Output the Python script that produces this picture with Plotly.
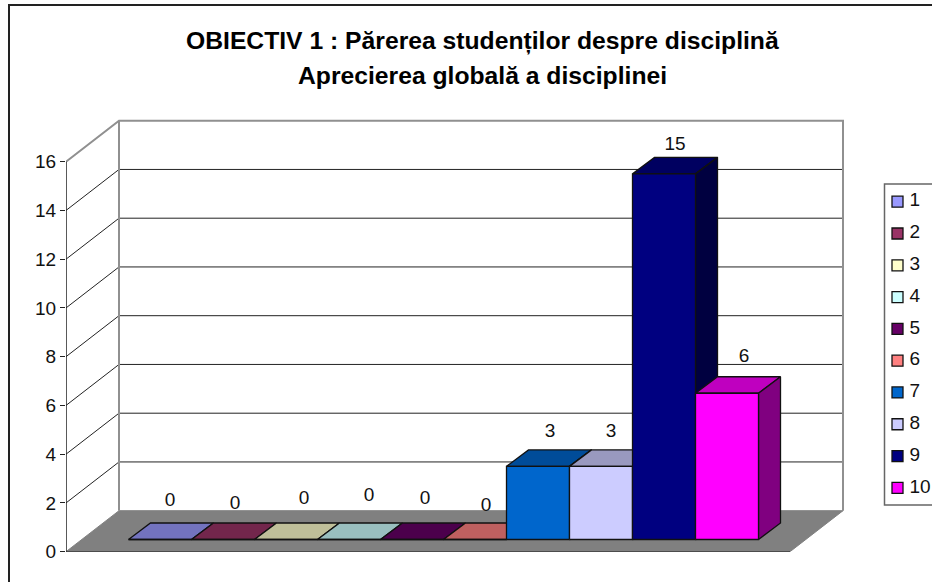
import numpy as np
import plotly.graph_objects as go

# ---- data ----
TITLE_LINE_1 = "OBIECTIV 1 : Părerea studenților despre disciplină"
TITLE_LINE_2 = "Aprecierea globală a disciplinei"
categories = ["1", "2", "3", "4", "5", "6", "7", "8", "9", "10"]
values = [0, 0, 0, 0, 0, 0, 3, 3, 15, 6]
y_ticks = [0, 2, 4, 6, 8, 10, 12, 14, 16]
colors = ["#9999FF", "#993366", "#FFFFCC", "#CCFFFF", "#660066",
          "#FF8080", "#0066CC", "#CCCCFF", "#000080", "#FF00FF"]
# hand placement of the value labels, in px, relative to each bar's rear top edge
label_dx = [10, 12, 18, 20, 13, 11, 12, 10, 11, 17]
label_dy = [22, 19, 24, 27, 24, 17, 18, 18, 12, 19]

# ---- geometry (px -> axis units) ----
W, H = 932, 583
PX_X0, PX_X1 = 66, 845          # plot area horizontally
PX_Y0, PX_PER_UNIT = 551.7, 24.375
BAR_PX = 63.0
Y_TOP = 18.0
X_MAX = (PX_X1 - PX_X0) / BAR_PX
ux = lambda px: px / BAR_PX
uy = lambda px: px / PX_PER_UNIT

WALL_DX, WALL_DY = ux(53), uy(41)      # floor depth
FLOOR_W = ux(724)                      # floor width
BAR_X0 = ux(62.5)                      # first bar, left front corner
BAR_Y0 = uy(12.2)                      # bar base above the front floor edge
DEPTH_DX, DEPTH_DY = ux(22), uy(16.5)  # bar depth

FONT = "Liberation Sans"
DARK = "#111111"
GRAY = "#808080"
TEXT_SIZE = 19
TITLE_SIZE = 24.7


def shade(hex_color, k):
    r, g, b = (int(hex_color[i:i + 2], 16) for i in (1, 3, 5))
    return f"rgb({r * k:.0f},{g * k:.0f},{b * k:.0f})"


def poly(xs, ys, fill, line=DARK, width=1.3):
    return go.Scatter(x=list(xs) + [xs[0]], y=list(ys) + [ys[0]], mode="lines",
                      fill="toself", fillcolor=fill, line=dict(color=line, width=width),
                      hoverinfo="skip", showlegend=False, cliponaxis=False)


def seg(xs, ys, color, width):
    return go.Scatter(x=xs, y=ys, mode="lines", line=dict(color=color, width=width),
                      hoverinfo="skip", showlegend=False, cliponaxis=False)


fig = go.Figure()

# floor
fig.add_trace(poly([0, FLOOR_W, FLOOR_W + WALL_DX, WALL_DX], [0, 0, WALL_DY, WALL_DY], GRAY, GRAY, 1))
fig.add_trace(seg([0, FLOOR_W], [0, 0], "#333333", 1.5))

# gridlines on left and back walls
grid_x, grid_y = [], []
for v in y_ticks[1:-1]:
    grid_x += [0, WALL_DX, WALL_DX + FLOOR_W, None]
    grid_y += [v, v + WALL_DY, v + WALL_DY, None]
fig.add_trace(seg(grid_x, grid_y, "#222222", 1))

# wall outlines
top = y_ticks[-1]
fig.add_trace(seg([WALL_DX, WALL_DX], [WALL_DY, top + WALL_DY], "#909090", 2))
fig.add_trace(seg([0, WALL_DX, WALL_DX + FLOOR_W, WALL_DX + FLOOR_W],
                  [top, top + WALL_DY, top + WALL_DY, WALL_DY], "#909090", 2))
fig.add_trace(seg([0, 0], [0, top], "#222222", 1.5))

# bars, left to right, each with top, side and front faces
for i, (name, v, c) in enumerate(zip(categories, values, colors)):
    x0, x1 = BAR_X0 + i, BAR_X0 + i + 1
    y0, y1 = BAR_Y0, BAR_Y0 + v
    fig.add_trace(poly([x0, x1, x1 + DEPTH_DX, x0 + DEPTH_DX],
                       [y1, y1, y1 + DEPTH_DY, y1 + DEPTH_DY], shade(c, 0.75)))
    if v > 0:
        fig.add_trace(poly([x1, x1 + DEPTH_DX, x1 + DEPTH_DX, x1],
                           [y0, y0 + DEPTH_DY, y1 + DEPTH_DY, y1], shade(c, 0.5)))
        fig.add_trace(poly([x0, x1, x1, x0], [y0, y0, y1, y1], c))
    else:
        fig.add_trace(seg([x0, x1], [y0, y0], DARK, 1.3))

# value labels
fig.add_trace(go.Scatter(
    x=[BAR_X0 + i + 0.5 + ux(dx) for i, dx in enumerate(label_dx)],
    y=[BAR_Y0 + v + DEPTH_DY + uy(dy) for v, dy in zip(values, label_dy)],
    text=[str(v) for v in values], mode="text", textposition="middle center",
    textfont=dict(family=FONT, size=TEXT_SIZE, color="#111111"),
    hoverinfo="skip", showlegend=False, cliponaxis=False))

# legend, built on its own small axes
rows = list(range(1, len(categories) + 1))
fig.add_trace(go.Scatter(
    x=[13] * len(rows), y=rows, mode="markers", xaxis="x2", yaxis="y2",
    marker=dict(symbol="square", size=11, color=colors, line=dict(color=DARK, width=1.3)),
    hoverinfo="skip", showlegend=False))
fig.add_trace(go.Scatter(
    x=[25] * len(rows), y=rows, mode="text", text=categories, xaxis="x2", yaxis="y2",
    textposition="middle right", textfont=dict(family=FONT, size=TEXT_SIZE, color="#111111"),
    hoverinfo="skip", showlegend=False, cliponaxis=False))

LG_L, LG_T, LG_B = 884.5, 184, 505
px = lambda x: x / W
py = lambda y: 1 - y / H

shapes = [
    dict(type="line", xref="paper", yref="paper", x0=px(9), y0=py(5), x1=1, y1=py(5),
         line=dict(color="#222222", width=2)),
    dict(type="line", xref="paper", yref="paper", x0=px(9), y0=py(4), x1=px(9), y1=py(582),
         line=dict(color="#222222", width=2)),
    dict(type="path", xref="paper", yref="paper",
         path=f"M 1 {py(LG_T)} L {px(LG_L)} {py(LG_T)} L {px(LG_L)} {py(LG_B)} L 1 {py(LG_B)}",
         line=dict(color="#666666", width=1.5)),
]

annotations = [
    dict(text=f"<b>{TITLE_LINE_1}</b>", xref="paper", yref="paper", x=px(482.5), y=py(41),
         xanchor="center", yanchor="middle",
         showarrow=False, font=dict(family=FONT, size=TITLE_SIZE, color="#000000")),
    dict(text=f"<b>{TITLE_LINE_2}</b>", xref="paper", yref="paper", x=px(482.5), y=py(75),
         xanchor="center", yanchor="middle",
         showarrow=False, font=dict(family=FONT, size=TITLE_SIZE, color="#000000")),
]

fig.update_layout(
    width=W, height=H, margin=dict(l=0, r=0, t=0, b=0, autoexpand=False),
    paper_bgcolor="white", plot_bgcolor="white", showlegend=False,
    shapes=shapes, annotations=annotations,
    xaxis=dict(domain=[px(PX_X0), px(PX_X1)], range=[0, X_MAX], visible=False, fixedrange=True),
    yaxis=dict(domain=[py(PX_Y0), py(PX_Y0 - Y_TOP * PX_PER_UNIT)], range=[0, Y_TOP],
               tickmode="array", tickvals=y_ticks, ticktext=[str(t) for t in y_ticks],
               ticks="outside", ticklen=5, tickwidth=1, tickcolor="#222222",
               showgrid=False, zeroline=False, showline=False, fixedrange=True,
               tickfont=dict(family=FONT, size=TEXT_SIZE, color="#111111")),
    xaxis2=dict(domain=[px(LG_L), 1], range=[0, 47.5], visible=False, anchor="y2", fixedrange=True),
    yaxis2=dict(domain=[py(LG_B), py(LG_T)], range=[10.54, 0.443], visible=False, anchor="x2", fixedrange=True),
)

fig.write_html("out.html", config=dict(displayModeBar=False),
               post_script="document.body.style.margin='0';document.documentElement.style.overflow='hidden';")
